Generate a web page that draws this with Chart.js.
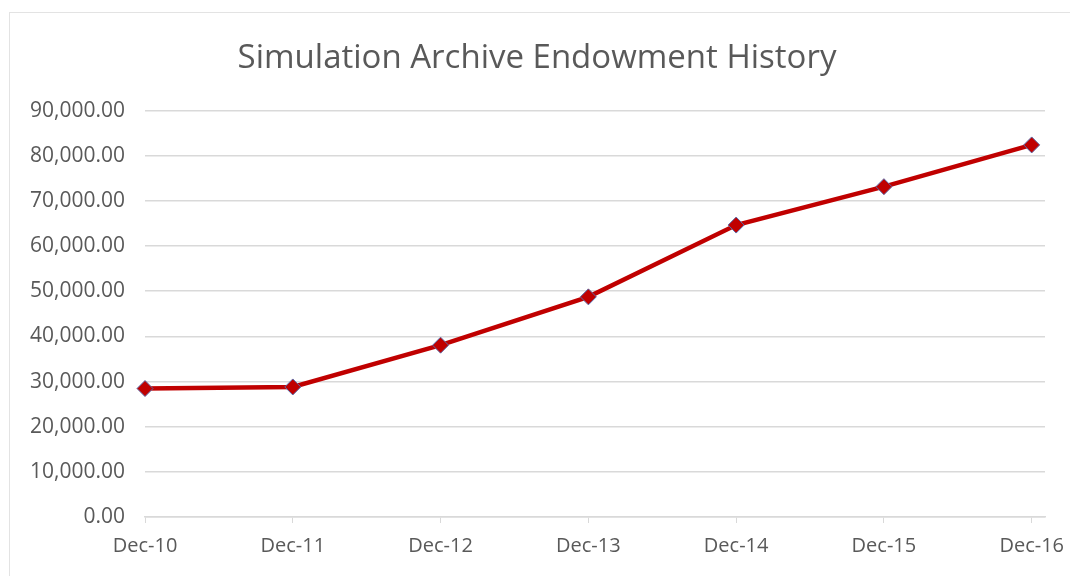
<!DOCTYPE html>
<html>
<head>
<meta charset="utf-8">
<script src="https://cdn.jsdelivr.net/npm/chart.js@4/dist/chart.umd.min.js"></script>
<style>
  html, body { margin: 0; padding: 0; background: #ffffff; }
  #wrap { position: relative; width: 1070px; height: 576px; overflow: hidden; }
  #frame { position: absolute; left: 9px; top: 12px; width: 1070px; height: 576px;
           border-top: 1px solid #e3e3e3; border-left: 1px solid #e3e3e3; }
  canvas { position: absolute; left: 0; top: 0; }
</style>
</head>
<body>
<div id="wrap">
  <div id="frame"></div>
  <canvas id="c" width="1070" height="576"></canvas>
</div>
<script>
const titleText = "Simulation Archive Endowment History";
const categories = ["Dec-10", "Dec-11", "Dec-12", "Dec-13", "Dec-14", "Dec-15", "Dec-16"];
const endowment = [28450, 28800, 38050, 48750, 64650, 73150, 82400];
const yTicks = [0, 10000, 20000, 30000, 40000, 50000, 60000, 70000, 80000, 90000];

const points = endowment.map((v, i) => ({ x: i, y: v }));
const fontFamily = "'Open Sans', 'Noto Sans', sans-serif";
const textColor = "#595959";
const gridColor = "#d9d9d9";

new Chart(document.getElementById("c"), {
  type: "line",
  data: {
    datasets: [{
      data: points,
      borderColor: "#c00000",
      borderWidth: 4.5,
      backgroundColor: "#c00000",
      pointStyle: "rectRot",
      pointRadius: 8,
      pointBackgroundColor: "#c00000",
      pointBorderColor: "#5a6aa8",
      pointBorderWidth: 1,
      tension: 0,
      fill: false,
      clip: false
    }]
  },
  options: {
    responsive: false,
    animation: false,
    devicePixelRatio: 1,
    layout: { padding: { left: 29, right: 25, top: 0, bottom: 0 } },
    plugins: {
      legend: { display: false },
      tooltip: { enabled: false },
      title: {
        display: true,
        text: titleText,
        color: textColor,
        font: { family: fontFamily, size: 33, weight: "normal" },
        padding: { top: 39, bottom: 32 }
      }
    },
    scales: {
      x: {
        type: "linear",
        min: 0,
        max: 6.09,
        afterBuildTicks: (scale) => { scale.ticks = categories.map((c, i) => ({ value: i })); },
        ticks: {
          autoSkip: false,
          maxRotation: 0,
          color: textColor,
          padding: 11,
          font: { family: fontFamily, size: 20 },
          callback: (v) => categories[v] ?? ""
        },
        grid: { drawOnChartArea: false, drawTicks: true, tickLength: 6, color: gridColor },
        border: { display: true, color: gridColor, width: 1.5 },
        afterFit: (scale) => { scale.height = 59; scale.paddingLeft = 0; scale.paddingRight = 0; }
      },
      y: {
        min: 0,
        max: 90000,
        afterBuildTicks: (scale) => { scale.ticks = yTicks.map(v => ({ value: v })); },
        ticks: {
          color: textColor,
          padding: 20,
          font: { family: fontFamily, size: 21 },
          callback: (v) => Number(v).toLocaleString("en-US", { minimumFractionDigits: 2, maximumFractionDigits: 2 })
        },
        grid: { drawTicks: false, color: gridColor, lineWidth: 1.5 },
        border: { display: false },
        afterFit: (scale) => { scale.width = 145 - 29; }
      }
    }
  }
});
</script>
</body>
</html>
